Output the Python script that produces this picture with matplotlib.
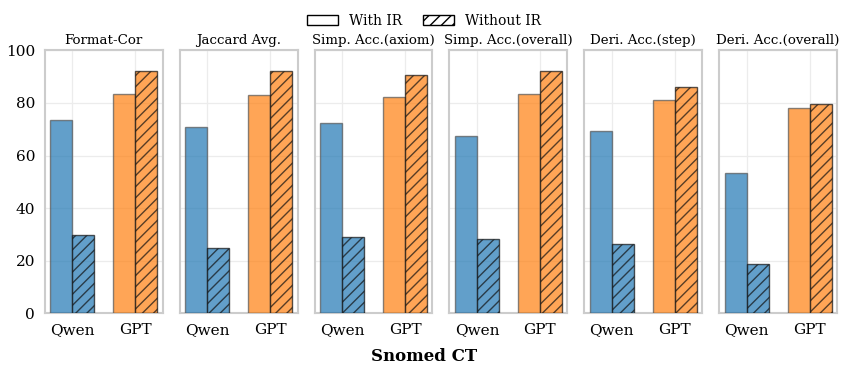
import numpy as np
import matplotlib

matplotlib.use("Agg")
import matplotlib.pyplot as plt
from matplotlib.patches import Patch

# --- Data ---
METRICS = [
    "Format-Cor",
    "Jaccard Avg.",
    "Simp. Acc.(axiom)",
    "Simp. Acc.(overall)",
    "Deri. Acc.(step)",
    "Deri. Acc.(overall)",
]
MODELS = ["Qwen", "GPT"]

qwen_with_ir = [73.7, 70.7, 72.4, 67.5, 69.4, 53.4]
qwen_without_ir = [29.8, 24.7, 29.0, 28.1, 26.3, 18.6]
gpt_with_ir = [83.5, 82.9, 82.4, 83.5, 81.2, 78.0]
gpt_without_ir = [92.3, 92.1, 90.6, 92.3, 86.2, 79.6]

COLORS = ["#1f77b4", "#ff7f0e"]
WIDTH = 0.35

plt.rcParams["font.family"] = "DejaVu Serif"

fig, axes = plt.subplots(1, 6, figsize=(8.48, 3.74), dpi=100, sharey=True)
fig.subplots_adjust(left=0.053, right=0.987, top=0.865, bottom=0.163, wspace=0.145)

x = np.arange(len(MODELS))
for i, ax in enumerate(axes):
    with_vals = [qwen_with_ir[i], gpt_with_ir[i]]
    without_vals = [qwen_without_ir[i], gpt_without_ir[i]]
    ax.bar(x - WIDTH / 2, with_vals, WIDTH, color=COLORS, alpha=0.7,
           edgecolor="#555555", linewidth=1.0, zorder=3)
    ax.bar(x + WIDTH / 2, without_vals, WIDTH, color=COLORS, alpha=0.7,
           edgecolor="#111111", linewidth=1.0, hatch="///", zorder=3)
    ax.set_title(METRICS[i], fontsize=9.6, pad=5)
    ax.set_xticks(x)
    ax.set_xticklabels(MODELS, fontsize=11)
    ax.set_ylim(0, 100)
    ax.set_yticks([0, 20, 40, 60, 80, 100])
    ax.grid(True, color="#ececec", linewidth=0.9, zorder=0)
    ax.set_axisbelow(True)
    ax.tick_params(length=0, pad=7, labelsize=11)
    for s in ax.spines.values():
        s.set_color("#cccccc")
        s.set_linewidth(1.5)

legend_handles = [
    Patch(facecolor="white", edgecolor="black", label="With IR"),
    Patch(facecolor="white", edgecolor="black", hatch="///", label="Without IR"),
]
fig.legend(handles=legend_handles, loc="upper center", ncol=2, frameon=False,
           fontsize=10, bbox_to_anchor=(0.5, 0.997), handlelength=2.2,
           columnspacing=1.5)
fig.supxlabel("Snomed CT", fontsize=12, fontweight="bold", y=0.023)

fig.savefig("out.png", dpi=100)
